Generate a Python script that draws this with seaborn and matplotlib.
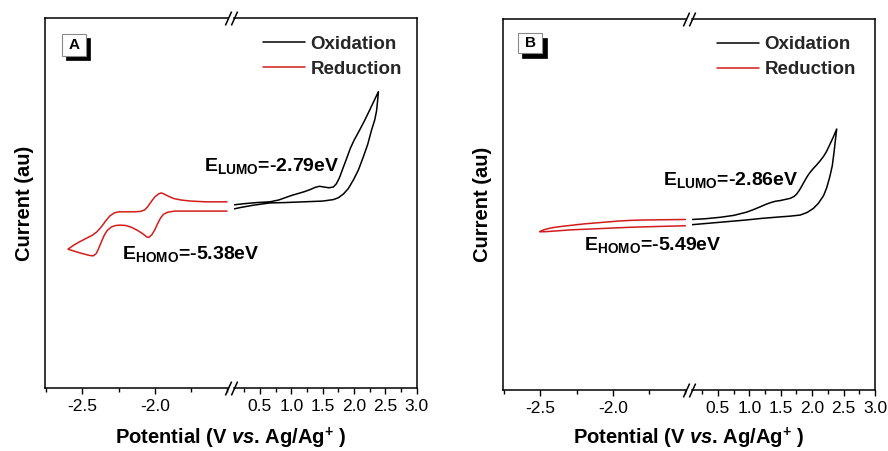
import matplotlib
matplotlib.use("Agg")
import matplotlib.pyplot as plt
import seaborn as sns
import pandas as pd
from matplotlib.ticker import FixedLocator, MultipleLocator
from matplotlib.patches import Rectangle

# ---------------- data (potential in V, current in arbitrary units) ----------------
A_red_v = [-1.50, -1.65, -1.75, -1.82, -1.87, -1.91, -1.94, -1.955, -1.975, -2.00, -2.025,
           -2.05, -2.07, -2.10, -2.15, -2.25, -2.28, -2.31, -2.34, -2.37, -2.40, -2.43,
           -2.47, -2.52, -2.56, -2.60,
           -2.56, -2.50, -2.45, -2.425, -2.405, -2.39, -2.37, -2.35, -2.33, -2.30, -2.27,
           -2.24, -2.20, -2.16, -2.12, -2.08, -2.055, -2.04, -2.02, -2.00, -1.98, -1.96,
           -1.94, -1.91, -1.86, -1.70, -1.50]
A_red_i = [50.4, 50.4, 50.6, 50.9, 51.3, 52.0, 52.6, 52.8, 52.5, 51.7, 50.4,
           49.0, 48.2, 47.8, 47.7, 47.7, 47.4, 46.6, 45.2, 43.6, 42.3, 41.4,
           40.6, 39.6, 38.7, 37.6,
           37.1, 36.4, 35.9, 35.8, 36.4, 37.6, 39.5, 41.3, 42.6, 43.6, 44.0,
           44.1, 44.0, 43.5, 42.7, 41.7, 40.9, 40.8, 41.5, 42.8, 44.5, 46.0,
           47.0, 47.6, 47.9, 47.9, 47.9]
A_ox_v = [0.09, 0.25, 0.45, 0.66, 0.80, 0.90, 1.00, 1.10, 1.20, 1.30, 1.38, 1.45, 1.52,
          1.60, 1.67, 1.72, 1.77, 1.82, 1.88, 1.94, 2.00, 2.09, 2.17, 2.25, 2.32, 2.39,
          2.375, 2.36, 2.33, 2.28, 2.22, 2.15, 2.07, 1.99, 1.91, 1.83, 1.75, 1.67, 1.50,
          1.20, 0.90, 0.66, 0.40, 0.20, 0.09]
A_ox_i = [49.6, 49.9, 50.2, 50.4, 50.9, 51.5, 52.1, 52.6, 53.1, 53.7, 54.3, 54.6, 54.4,
          54.2, 54.4, 55.3, 57.0, 59.3, 62.0, 64.8, 67.0, 69.8, 72.4, 75.2, 77.7, 80.2,
          77.5, 75.0, 72.5, 69.8, 66.0, 62.6, 59.0, 56.3, 54.0, 52.5, 51.5, 51.0, 50.6,
          50.4, 50.2, 50.1, 49.5, 48.9, 48.5]

B_red_v = [-1.497, -1.60, -1.70, -1.80, -1.878, -1.95, -2.03, -2.108, -2.20, -2.293, -2.35,
           -2.408, -2.45, -2.477, -2.495, -2.505,
           -2.47, -2.43, -2.36, -2.293, -2.20, -2.108, -2.00, -1.878, -1.70, -1.497]
B_red_i = [46.0, 45.95, 45.9, 45.85, 45.75, 45.6, 45.35, 45.1, 44.8, 44.4, 44.15,
           43.85, 43.5, 43.2, 42.9, 42.7,
           42.7, 42.8, 43.0, 43.2, 43.35, 43.5, 43.7, 43.9, 44.1, 44.3]
B_ox_v = [0.09, 0.30, 0.54, 0.75, 0.96, 1.07, 1.17, 1.25, 1.33, 1.41, 1.49, 1.57, 1.65,
          1.71, 1.75, 1.80, 1.86, 1.90, 1.94, 1.98, 2.02, 2.07, 2.12, 2.18, 2.23, 2.28,
          2.33, 2.39,
          2.37, 2.35, 2.32, 2.28, 2.23, 2.18, 2.10, 2.02, 1.92, 1.81, 1.65, 1.49, 1.20,
          0.91, 0.50, 0.09]
B_ox_i = [46.0, 46.2, 46.6, 47.1, 48.0, 48.7, 49.4, 50.0, 50.5, 50.9, 51.1, 51.4, 51.7,
          52.2, 52.8, 54.0, 55.8, 57.0, 58.1, 59.0, 59.8, 60.7, 61.7, 63.0, 64.4, 66.2,
          68.0, 70.4,
          67.5, 64.5, 60.5, 57.5, 54.5, 52.4, 50.4, 49.0, 47.9, 47.2, 46.9, 46.7, 46.3,
          45.8, 45.2, 44.6]

panels = ["A", "B"]
lumo_labels = ["-2.79eV", "-2.86eV"]
homo_labels = ["-5.38eV", "-5.49eV"]
legend_labels = ["Oxidation", "Reduction"]
left_ticks = [-2.5, -2.0]

RED = "#d41c1c"
BLACK = "#000000"

# ---------------- style ----------------
sns.set_theme(style="white")
plt.rcParams["font.family"] = ["Liberation Sans", "DejaVu Sans"]
plt.rcParams["axes.unicode_minus"] = False
plt.rcParams["mathtext.fontset"] = "custom"
plt.rcParams["mathtext.rm"] = "Liberation Sans"
plt.rcParams["mathtext.it"] = "Liberation Sans:italic"
plt.rcParams["mathtext.bf"] = "Liberation Sans:bold"
try:
    plt.rcParams["mathtext.bfit"] = "Liberation Sans:italic:bold"
    VS = r"$\mathbfit{vs}$"
except KeyError:
    VS = r"$\mathit{vs}$"

W, H = 888, 451
fig = plt.figure(figsize=(W / 100, H / 100), dpi=100)
fig.patch.set_facecolor("white")


def fx(x):
    return x / W


def fy(y):
    return 1 - y / H


geom = [
    # left, break_l, break_r, right, top, bottom (px)
    (45.3, 228.0, 234.0, 416.7, 18.3, 388.3),
    (503.3, 686.0, 692.0, 875.0, 19.3, 390.0),
]
data = [
    (A_red_v, A_red_i, A_ox_v, A_ox_i),
    (B_red_v, B_red_i, B_ox_v, B_ox_i),
]
# text positions (px): lumo (x, baseline), homo (x, baseline), legend anchor (x, top), label box
txtpos = [
    dict(lumo=(204, 170.7), homo=(122.3, 259.3), leg=(263.3, 35.5), box=(61.7, 34.0, 86.0, 55.7)),
    dict(lumo=(663, 185.0), homo=(584, 250.0), leg=(717.3, 36.0), box=(518.0, 33.3, 542.3, 53.3)),
]

for p in range(2):
    L, BL, BR, R, T, Bm = geom[p]
    h = (Bm - T) / H
    axl = fig.add_axes([fx(L), fy(Bm), (BL - L) / W, h])
    axr = fig.add_axes([fx(BR), fy(Bm), (R - BR) / W, h])
    rv, ri, ov, oi = data[p]
    dfr = pd.DataFrame({"V": rv, "I": ri})
    dfo = pd.DataFrame({"V": ov, "I": oi})
    sns.lineplot(data=dfr, x="V", y="I", sort=False, estimator=None, color=RED,
                 linewidth=1.1, ax=axl)
    sns.lineplot(data=dfo, x="V", y="I", sort=False, estimator=None, color=BLACK,
                 linewidth=1.1, ax=axr)
    red_line = axl.lines[0]
    ox_line = axr.lines[0]

    axl.set_xlim(-2.757, -1.493)
    axr.set_xlim(0.086, 3.0)
    for ax in (axl, axr):
        ax.set_ylim(0, 100)
        ax.set_xlabel("")
        ax.set_ylabel("")
        ax.set_facecolor("white")
        ax.tick_params(axis="y", left=False, right=False, labelleft=False)
        ax.tick_params(axis="x", which="major", direction="out", length=4.5, width=1.0,
                       color="black", labelsize=12.5, pad=3.2, labelcolor="black", bottom=True)
        ax.tick_params(axis="x", which="minor", direction="out", length=2.8, width=1.0,
                       color="black", bottom=True)
        ax.xaxis.set_minor_locator(MultipleLocator(0.25))
        for s in ax.spines.values():
            s.set_color("black")
            s.set_linewidth(1.1)
    axl.xaxis.set_major_locator(FixedLocator(left_ticks))
    axr.xaxis.set_major_locator(MultipleLocator(0.5))
    axl.spines["right"].set_visible(False)
    axr.spines["left"].set_visible(False)

    # break marks
    kw = dict(marker=[(-0.45, -1), (0.45, 1)], markersize=10, linestyle="none",
              color="black", mec="black", mew=1.1, clip_on=False)
    axl.plot([1, 1], [0, 1], transform=axl.transAxes, **kw)
    axr.plot([0, 0], [0, 1], transform=axr.transAxes, **kw)

    # y label
    axl.set_ylabel("Current (au)", fontsize=14.5, fontweight="bold", color="black", labelpad=8)

    # x label
    cx = (L + R) / 2
    fig.text(fx(cx), fy(444.5), "Potential (V " + VS + ". Ag/Ag$^{\\mathbf{+}}$ )",
             ha="center", va="baseline", fontsize=14.5, fontweight="bold", color="black")

    tp = txtpos[p]
    fig.text(fx(tp["lumo"][0]), fy(tp["lumo"][1]),
             "E$_{\\mathbf{LUMO}}$=" + lumo_labels[p], ha="left", va="baseline",
             fontsize=14, fontweight="bold", color="black")
    fig.text(fx(tp["homo"][0]), fy(tp["homo"][1]),
             "E$_{\\mathbf{HOMO}}$=" + homo_labels[p], ha="left", va="baseline",
             fontsize=14, fontweight="bold", color="black")

    axr.legend([ox_line, red_line], legend_labels, loc="upper left",
               bbox_to_anchor=(fx(tp["leg"][0]), fy(tp["leg"][1])),
               bbox_transform=fig.transFigure, frameon=False,
               prop={"weight": "bold", "size": 13.5}, handlelength=2.25,
               handletextpad=0.28, labelspacing=0.42, borderpad=0, borderaxespad=0)

    # panel label box with shadow
    x0, y0, x1, y1 = tp["box"]
    d = 4.3
    fig.add_artist(Rectangle((fx(x0 + d), fy(y1 + d)), (x1 - x0) / W, (y1 - y0) / H,
                             transform=fig.transFigure, facecolor="black", edgecolor="black",
                             lw=0.5))
    fig.add_artist(Rectangle((fx(x0), fy(y1)), (x1 - x0) / W, (y1 - y0) / H,
                             transform=fig.transFigure, facecolor="white", edgecolor="#8a8a8a",
                             lw=0.8))
    fig.text(fx((x0 + x1) / 2), fy((y0 + y1) / 2), panels[p], ha="center", va="center",
             fontsize=11, fontweight="bold", color="black")

fig.savefig("out.png", dpi=100, facecolor="white")
